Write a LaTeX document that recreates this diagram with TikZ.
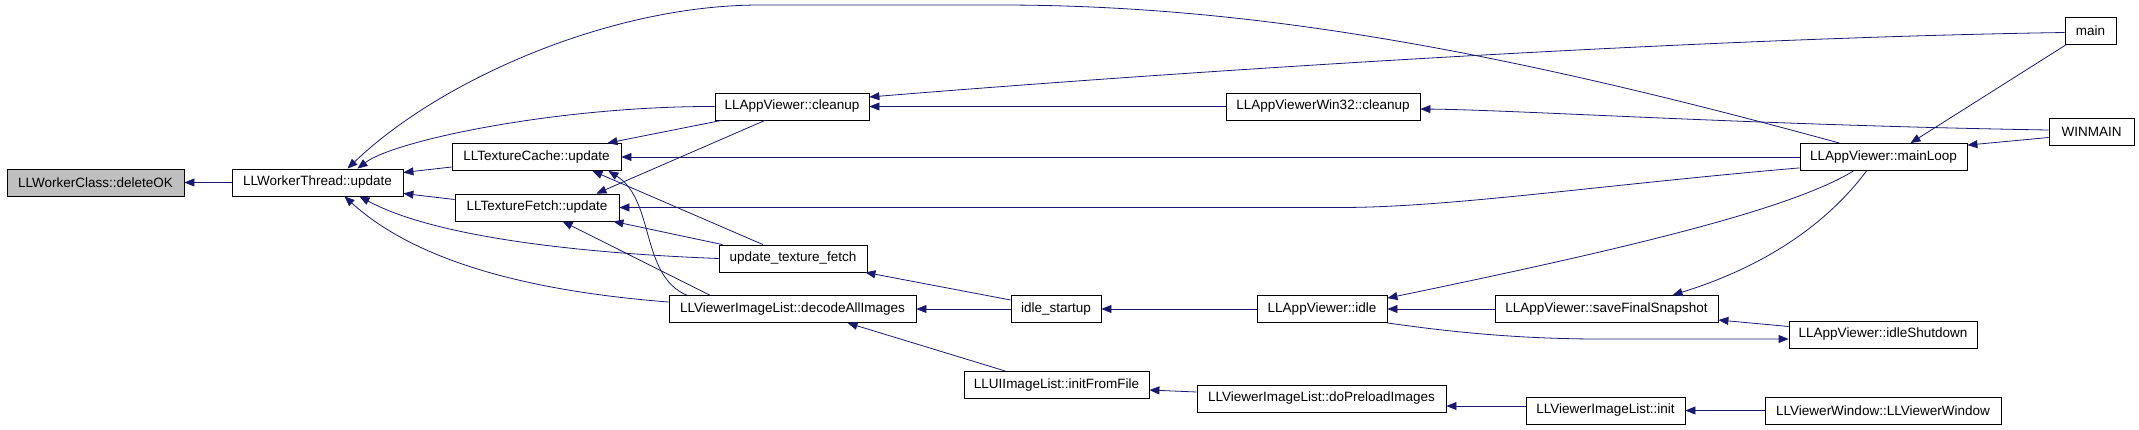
\documentclass[tikz,border=0pt]{standalone}
\usepackage{fontspec}
\setmainfont{Liberation Sans}
\usetikzlibrary{arrows.meta,calc}
\definecolor{edgeblue}{HTML}{191970}
\definecolor{rootgray}{HTML}{BFBFBF}
\begin{document}
\begin{tikzpicture}[x=1pt,y=-1pt,
  fn/.style={draw,line width=0.8pt,minimum height=27pt,inner sep=0pt,font=\fontsize{13.5}{16}\selectfont},
  call/.style={draw=edgeblue,line width=0.8pt,-{Triangle[length=10pt,width=8pt]}}]
\useasboundingbox (0,0) rectangle (2139,429);
\node[fn,fill=rootgray,minimum width=177pt] (DEL) at (95.5,182.5) {LLWorkerClass::deleteOK};
\node[fn,minimum width=171pt] (WT) at (317.5,182.5) {LLWorkerThread::update};
\node[fn,minimum width=169pt] (TC) at (536.5,157) {LLTextureCache::update};
\node[fn,minimum width=164pt] (TF) at (537,207.5) {LLTextureFetch::update};
\node[fn,minimum width=154pt] (CL) at (792,106.5) {LLAppViewer::cleanup};
\node[fn,minimum width=148pt] (UTF) at (793,258.5) {update\_texture\_fetch};
\node[fn,minimum width=247pt] (DEC) at (792.5,309) {LLViewerImageList::decodeAllImages};
\node[fn,minimum width=90pt] (IS) at (1056,309) {idle\_startup};
\node[fn,minimum width=185pt] (IFF) at (1056.5,385) {LLUIImageList::initFromFile};
\node[fn,minimum width=130pt] (IDLE) at (1322,309) {LLAppViewer::idle};
\node[fn,minimum width=249pt] (DPI) at (1321.5,398.5) {LLViewerImageList::doPreloadImages};
\node[fn,minimum width=194pt] (W32) at (1323,106.5) {LLAppViewerWin32::cleanup};
\node[fn,minimum width=223pt] (SFS) at (1606.5,309) {LLAppViewer::saveFinalSnapshot};
\node[fn,minimum width=159pt] (VIL) at (1605.5,410.5) {LLViewerImageList::init};
\node[fn,minimum width=167pt] (ML) at (1883.5,157) {LLAppViewer::mainLoop};
\node[fn,minimum width=188pt] (ISD) at (1883,334.5) {LLAppViewer::idleShutdown};
\node[fn,minimum width=236pt] (VW) at (1883,410.5) {LLViewerWindow::LLViewerWindow};
\node[fn,minimum width=51pt] (MAIN) at (2090.5,30.5) {main};
\node[fn,minimum width=85pt] (WIN) at (2091.5,131.5) {WINMAIN};
\draw[call] (WT.west) -- (DEL.east);
\draw[call] ($(TC.west)+(0,10)$) -- ($(WT.east)+(0,-10)$);
\draw[call] ($(TF.west)+(0,-8)$) -- ($(WT.east)+(0,11)$);
\draw[call] (CL.west) .. controls (560,106) and (395,140) .. ($(WT.north)+(40,0)$);
\draw[call] ($(ML.north)+(-44,0)$) .. controls (1500,50) and (1250,5) .. (1000,5) -- (760,5) .. controls (610,5) and (440,80) .. ($(WT.north)+(30,0)$);
\draw[call] (UTF.west) .. controls (600,254) and (440,240) .. ($(WT.south)+(42,0)$);
\draw[call] ($(DEC.west)+(0,-7)$) .. controls (540,292) and (420,265) .. ($(WT.south)+(27,0)$);
\draw[call] ($(CL.south west)+(7,0)$) -- ($(TC.north east)+(-14,0)$);
\draw[call] (ML.west) -- (TC.east);
\draw[call] ($(UTF.north)+(-30,0)$) -- ($(TC.south east)+(-29,0)$);
\draw[call] ($(DEC.north west)+(18,0)$) .. controls (640,275) and (655,200) .. ($(TC.south east)+(-13,0)$);
\draw[call] ($(CL.south)+(-27,0)$) -- ($(TF.north east)+(-23,0)$);
\draw[call] ($(ML.south west)+(0,-3)$) .. controls (1600,185) and (1450,207.5) .. (1340,207.5) -- (TF.east);
\draw[call] ($(UTF.north west)+(4,0)$) -- ($(TF.south east)+(-6,0)$);
\draw[call] ($(DEC.north west)+(41,0)$) -- ($(TF.south west)+(108,0)$);
\draw[call] (W32.west) -- (CL.east);
\draw[call] ($(MAIN.west)+(0,2)$) .. controls (1700,38) and (1200,70) .. ($(CL.east)+(0,-9.5)$);
\draw[call] ($(WIN.west)+(0,-1.5)$) .. controls (1750,125) and (1520,110) .. ($(W32.east)+(0,2.5)$);
\draw[call] ($(MAIN.south west)+(2,0)$) -- ($(ML.north)+(27,0)$);
\draw[call] ($(WIN.west)+(0,6)$) -- ($(ML.north east)+(0,2)$);
\draw[call] ($(IS.west)+(0,-9)$) -- ($(UTF.south east)+(-2,0)$);
\draw[call] (IS.west) -- (DEC.east);
\draw[call] ($(IFF.north west)+(42,0)$) -- ($(DEC.south)+(55,0)$);
\draw[call] (IDLE.west) -- (IS.east);
\draw[call] ($(ML.south)+(-30,0)$) .. controls (1790,210) and (1620,250) .. ($(IDLE.north east)+(0,3)$);
\draw[call] (SFS.west) -- (IDLE.east);
\draw[call] ($(ML.south)+(-17,0)$) .. controls (1830,220) and (1770,265) .. ($(SFS.north)+(66,0)$);
\draw[call] (IDLE.south east) .. controls (1450,332) and (1520,339) .. (1600,339) -- ($(ISD.west)+(0,4.5)$);
\draw[call] ($(ISD.west)+(0,-8)$) -- ($(SFS.east)+(0,11)$);
\draw[call] ($(DPI.west)+(0,-6.5)$) -- ($(IFF.east)+(0,5)$);
\draw[call] ($(VIL.west)+(0,-4.5)$) -- ($(DPI.east)+(0,7.5)$);
\draw[call] (VW.west) -- (VIL.east);
\end{tikzpicture}
\end{document}
